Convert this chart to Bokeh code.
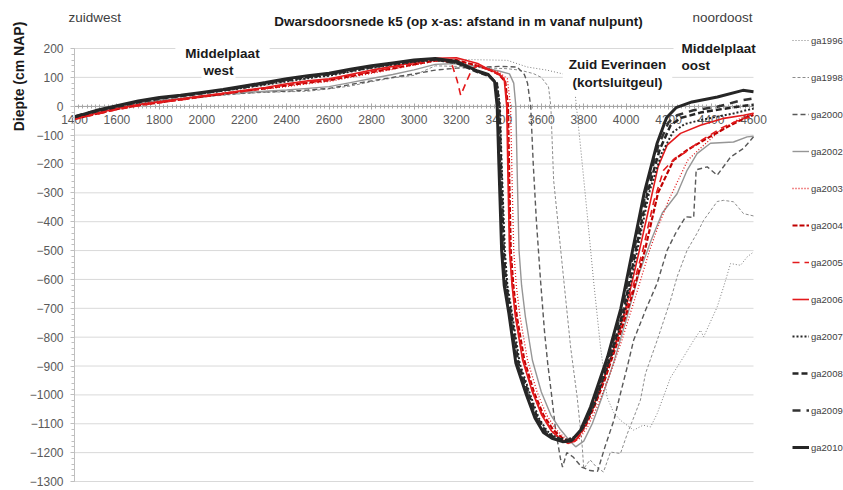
import numpy as np
from math import pi
from bokeh.plotting import figure
from bokeh.models import (Range1d, SingleIntervalTicker, Label, Legend, LegendItem)
from bokeh.embed import file_html
from bokeh.resources import INLINE

# ---------------- data ----------------
west_x = [1400, 1500, 1600, 1700, 1800, 1900, 2000, 2100, 2200, 2300,
          2400, 2500, 2600, 2700, 2800, 2900, 3000, 3100, 3200, 3300]

x_ga2010 = west_x + [3350, 3380, 3392, 3400, 3413, 3425, 3447, 3480, 3530, 3570, 3610, 3650, 3700, 3740,
                     3785, 3832, 3870, 3912, 3975, 4030, 4085, 4145, 4190, 4235, 4310, 4430, 4550, 4600]
y_ga2010 = [-37, -15, 2, 18, 30, 38, 48, 58, 70, 82, 95, 106, 114, 128, 140, 150, 160, 165, 155, 122,
            110, 85, 0, -200, -500, -620, -717, -890, -1000, -1080, -1130, -1150, -1162, -1160,
            -1122, -1042, -960, -869, -700, -500, -300, -130, -40, -5, 15, 32, 55, 50]

x_ga2009 = west_x + [3350, 3385, 3397, 3405, 3418, 3430, 3452, 3486, 3536, 3576, 3616, 3656, 3706, 3748,
                     3792, 3840, 3878, 3920, 3982, 4037, 4092, 4150, 4200, 4240, 4317, 4429, 4540, 4600]
y_ga2009 = [-35, -16, 0, 16, 28, 36, 46, 56, 68, 80, 92, 104, 112, 126, 138, 148, 158, 163, 152, 120,
            108, 82, 0, -200, -500, -620, -717, -890, -1000, -1080, -1130, -1150, -1160, -1155,
            -1118, -1040, -958, -866, -700, -500, -300, -140, -55, -31, -14, -2, 20, 27]

x_ga2008 = west_x + [3350, 3390, 3402, 3410, 3423, 3435, 3457, 3492, 3542, 3582, 3622, 3662, 3712, 3754,
                     3798, 3846, 3884, 3927, 3990, 4045, 4100, 4158, 4210, 4260, 4350, 4450, 4540, 4600]
y_ga2008 = [-38, -18, -2, 14, 26, 35, 45, 55, 66, 78, 90, 101, 110, 123, 135, 146, 156, 162, 150, 118,
            106, 80, 0, -200, -500, -620, -717, -890, -1000, -1080, -1128, -1148, -1158, -1150,
            -1112, -1035, -955, -862, -700, -500, -300, -150, -65, -40, -22, -10, 0, 5]

x_ga2007 = west_x + [3350, 3392, 3405, 3413, 3428, 3440, 3462, 3498, 3548, 3588, 3628, 3668, 3718, 3760,
                     3804, 3852, 3890, 3934, 3997, 4052, 4108, 4166, 4220, 4275, 4350, 4430, 4506, 4600]
y_ga2007 = [-36, -17, 0, 15, 27, 36, 45, 54, 64, 75, 86, 97, 106, 120, 133, 144, 154, 160, 150, 120,
            108, 78, 0, -200, -500, -620, -717, -890, -1000, -1080, -1126, -1146, -1155, -1145,
            -1105, -1030, -950, -858, -700, -500, -300, -165, -90, -62, -48, -36, -25, -8]

x_ga2006 = west_x + [3350, 3400, 3425, 3437, 3443, 3450, 3462, 3478, 3512, 3558, 3602, 3648, 3693, 3725,
                     3760, 3800, 3842, 3892, 3950, 4005, 4062, 4112, 4150, 4193, 4256, 4350, 4460, 4553, 4600]
y_ga2006 = [-42, -25, -8, 5, 15, 25, 35, 45, 55, 65, 78, 88, 95, 110, 125, 138, 152, 166, 168, 148,
            128, 113, 95, 0, -250, -500, -620, -730, -880, -990, -1070, -1125, -1155, -1168,
            -1160, -1115, -1045, -950, -820, -680, -500, -337, -210, -135, -94, -66, -42, -31, -24]

x_ga2005 = [1400, 1500, 1600, 1700, 1800, 1900, 2000, 2100, 2200, 2300, 2400, 2500, 2600, 2700,
            2800, 2900, 3000, 3100, 3150, 3180, 3203, 3220, 3250, 3275, 3300, 3350, 3400, 3428, 3440,
            3446, 3452, 3464, 3480, 3515, 3560, 3605, 3650, 3695, 3728, 3762, 3802, 3845, 3895, 3955,
            4015, 4078, 4130, 4176, 4230, 4270, 4350, 4450, 4540, 4600]
y_ga2005 = [-45, -28, -12, 2, 12, 22, 32, 42, 52, 62, 74, 84, 92, 106,
            120, 133, 147, 160, 156, 142, 90, 38, 90, 131, 140, 126, 110, 88, 0,
            -250, -500, -620, -730, -880, -990, -1070, -1125, -1155, -1166, -1158, -1112, -1042, -945, -815,
            -670, -500, -330, -222, -180, -164, -120, -75, -45, -35]

x_ga2004 = west_x + [3350, 3400, 3430, 3443, 3449, 3456, 3468, 3485, 3520, 3565, 3610, 3655, 3700, 3732,
                     3768, 3808, 3850, 3900, 3960, 4030, 4088, 4150, 4223, 4287, 4365, 4476, 4570, 4600]
y_ga2004 = [-44, -27, -10, 3, 13, 23, 33, 43, 53, 62, 72, 82, 90, 104, 118, 131, 145, 158, 160, 140,
            128, 110, 85, 0, -250, -500, -620, -730, -880, -990, -1070, -1120, -1150, -1162,
            -1152, -1108, -1040, -945, -815, -650, -500, -300, -187, -152, -118, -72, -37, -30]

x_ga2003 = west_x + [3350, 3400, 3440, 3455, 3462, 3470, 3482, 3500, 3535, 3580, 3625, 3670, 3715, 3748,
                     3782, 3820, 3865, 3918, 3980, 4048, 4110, 4150, 4200, 4290, 4340, 4444, 4530, 4600]
y_ga2003 = [-40, -22, -5, 8, 18, 27, 36, 45, 54, 60, 68, 78, 86, 100, 114, 128, 143, 156, 158, 140,
            130, 118, 95, 0, -250, -500, -620, -730, -880, -990, -1070, -1120, -1152, -1165,
            -1150, -1108, -1038, -940, -810, -650, -500, -418, -326, -187, -152, -83, -45, -24]

x_ga2002 = west_x + [3350, 3400, 3450, 3470, 3480, 3487, 3495, 3507, 3525, 3558, 3600, 3645, 3690, 3735,
                     3762, 3800, 3840, 3885, 3940, 4000, 4060, 4120, 4170, 4240, 4287, 4334, 4397, 4506, 4570, 4600]
y_ga2002 = [-38, -20, -4, 10, 20, 28, 36, 42, 48, 52, 56, 62, 68, 82, 96, 110, 126, 145, 148, 138,
            130, 122, 112, 80, 0, -250, -500, -620, -730, -880, -990, -1070, -1120, -1160,
            -1180, -1160, -1100, -1010, -890, -740, -580, -460, -370, -303, -222, -164, -128, -124, -106, -104]

x_ga2000 = west_x + [3344, 3400, 3486, 3520, 3535, 3550, 3562, 3577, 3596, 3615, 3630, 3650, 3667, 3690,
                     3700, 3720, 3750, 3790, 3830, 3865, 3900, 3942, 3973, 4005, 4035, 4091, 4146, 4193,
                     4233, 4280, 4318, 4330, 4382, 4429, 4492, 4553, 4600]
y_ga2000 = [-40, -22, -6, 8, 18, 26, 33, 40, 46, 50, 52, 56, 62, 75, 88, 100, 112, 125, 132, 136,
            136, 138, 136, 110, 80, 0, -200, -400, -600, -780, -890, -1010, -1120, -1220,
            -1250, -1200, -1215, -1250, -1262, -1265, -1180, -1088, -995, -903, -811, -707, -613, -499,
            -440, -383, -385, -220, -210, -239, -176, -146, -106]

x_ga1998 = west_x + [3439, 3500, 3563, 3600, 3634, 3645, 3658, 3690, 3738, 3769, 3793, 3800, 3830, 3860,
                     3893, 3926, 3973, 4005, 4040, 4067, 4091, 4146, 4209, 4240, 4287, 4334, 4365, 4429,
                     4459, 4506, 4553, 4600]
y_ga1998 = [-40, -22, -6, 8, 18, 25, 32, 38, 44, 48, 50, 52, 60, 70, 85, 98, 107, 140, 138, 134,
            130, 125, 113, 100, 67, 0, -256, -488, -834, -1008, -1180, -1255, -1225, -1250,
            -1267, -1198, -1203, -1135, -1070, -1018, -926, -811, -672, -591, -499, -440, -395, -330,
            -326, -331, -372, -380]

x_ga1996 = west_x + [3440, 3533, 3627, 3690, 3740, 3752, 3761, 3785, 3816, 3846, 3879, 3910, 3940, 3973,
                     4035, 4080, 4115, 4146, 4209, 4270, 4318, 4350, 4365, 4429, 4459, 4492, 4539, 4570, 4600]
y_ga1996 = [-40, -20, -3, 12, 24, 33, 42, 52, 62, 72, 84, 95, 106, 120, 133, 145, 155, 163, 162, 161,
            159, 136, 125, 114, 105, 60, 32, -141, -372, -603, -834, -1008, -1060, -1088,
            -1122, -1105, -1111, -1065, -940, -869, -811, -776, -799, -695, -626, -545, -551, -522, -505]

series_names = ["ga1996", "ga1998", "ga2000", "ga2002", "ga2003", "ga2004",
                "ga2005", "ga2006", "ga2007", "ga2008", "ga2009", "ga2010"]
series_x = [x_ga1996, x_ga1998, x_ga2000, x_ga2002, x_ga2003, x_ga2004,
            x_ga2005, x_ga2006, x_ga2007, x_ga2008, x_ga2009, x_ga2010]
series_y = [y_ga1996, y_ga1998, y_ga2000, y_ga2002, y_ga2003, y_ga2004,
            y_ga2005, y_ga2006, y_ga2007, y_ga2008, y_ga2009, y_ga2010]

X_MIN, X_MAX, X_STEP = 1400, 4600, 200
Y_MIN, Y_MAX, Y_STEP = -1300, 200, 100
y_grid_values = list(range(Y_MIN, Y_MAX + 1, Y_STEP))

# ---------------- styles ----------------
styles = {
    "ga1996": dict(line_color="#7f7f7f", line_width=1.0, line_dash="1 2"),
    "ga1998": dict(line_color="#8c8c8c", line_width=1.0, line_dash="3 2"),
    "ga2000": dict(line_color="#595959", line_width=1.4, line_dash="5 3"),
    "ga2002": dict(line_color="#969696", line_width=1.4, line_dash="solid"),
    "ga2003": dict(line_color="#e31a1c", line_width=1.3, line_dash="1 2"),
    "ga2004": dict(line_color="#c00000", line_width=2.2, line_dash="5 2"),
    "ga2005": dict(line_color="#e31a1c", line_width=1.6, line_dash="7 5"),
    "ga2006": dict(line_color="#e31a1c", line_width=1.6, line_dash="solid"),
    "ga2007": dict(line_color="#262626", line_width=2.0, line_dash="2 2"),
    "ga2008": dict(line_color="#262626", line_width=2.5, line_dash="6 3"),
    "ga2009": dict(line_color="#333333", line_width=2.5, line_dash="8 6"),
    "ga2010": dict(line_color="#262626", line_width=3.0, line_dash="solid"),
}

FONT = "Liberation Sans"

# ---------------- layout: frame = whole canvas, axes fixed inside ----------------
W, H = 843, 490
PX_LEFT, PX_RIGHT, PX_TOP, PX_BOTTOM = 74, 753, 48, 481   # where the data box sits
sx = (PX_RIGHT - PX_LEFT) / (X_MAX - X_MIN)
sy = (PX_BOTTOM - PX_TOP) / (Y_MAX - Y_MIN)
x_range = Range1d(X_MIN - PX_LEFT / sx, X_MIN + (W - PX_LEFT) / sx)
y_range = Range1d(Y_MAX - (H - PX_TOP) / sy, Y_MAX + PX_TOP / sy)

p = figure(width=W, height=H, x_range=x_range, y_range=y_range,
           output_backend="svg", toolbar_location=None,
           min_border_left=0, min_border_right=0, min_border_top=0, min_border_bottom=0)
p.outline_line_color = None
p.background_fill_color = "white"
p.border_fill_color = "white"
p.xgrid.visible = False
p.ygrid.visible = False

# horizontal grid lines only over the data box
p.segment(x0=[X_MIN] * len(y_grid_values), y0=y_grid_values,
          x1=[X_MAX] * len(y_grid_values), y1=y_grid_values,
          line_color="#d9d9d9", line_width=1, level="underlay")

# y axis at x = 1400
yt = SingleIntervalTicker(interval=Y_STEP, num_minor_ticks=5)
p.yaxis.ticker = yt
p.yaxis.fixed_location = X_MIN
p.yaxis.bounds = (Y_MIN, Y_MAX)
p.yaxis.axis_line_color = "#bfbfbf"
p.yaxis.major_tick_line_color = "#bfbfbf"
p.yaxis.minor_tick_line_color = "#bfbfbf"
p.yaxis.major_tick_out = 4
p.yaxis.major_tick_in = 0
p.yaxis.minor_tick_out = 3
p.yaxis.minor_tick_in = 0
p.yaxis.major_label_standoff = 7
p.yaxis.major_label_text_font = FONT
p.yaxis.major_label_text_font_size = "12px"
p.yaxis.major_label_text_color = "#595959"

# x axis at y = 0
xt = SingleIntervalTicker(interval=X_STEP, num_minor_ticks=10)
p.xaxis.ticker = xt
p.xaxis.fixed_location = 0
p.xaxis.bounds = (X_MIN, X_MAX)
p.xaxis.axis_line_color = "#a6a6a6"
p.xaxis.major_tick_line_color = "#a6a6a6"
p.xaxis.minor_tick_line_color = "#a6a6a6"
p.xaxis.major_tick_out = 3
p.xaxis.major_tick_in = 3
p.xaxis.minor_tick_out = 2
p.xaxis.minor_tick_in = 2
p.xaxis.major_label_standoff = 6
p.xaxis.major_label_text_font = FONT
p.xaxis.major_label_text_font_size = "12px"
p.xaxis.major_label_text_color = "#595959"
p.xaxis.level = "underlay"

items = []
for name, xs, ys in zip(series_names, series_x, series_y):
    r = p.line(xs, ys, **styles[name])
    items.append(LegendItem(label=name, renderers=[r]))

legend = Legend(items=items, location=(792, 33), orientation="vertical",
                glyph_width=17, glyph_height=20, label_height=20, label_standoff=2, spacing=17,
                padding=0, margin=0, border_line_color=None, background_fill_alpha=0,
                label_text_font=FONT, label_text_font_size="9.5px", label_text_color="#404040")
p.add_layout(legend)

def lab(text, x, y, align="center", size="13.5px", style="bold", color="#1a1a1a", bg=None, pad=0, angle=0):
    kw = dict(x=x, y=H - y, x_units="screen", y_units="screen", text=text, text_align=align,
              text_baseline="middle", text_font=FONT, text_font_size=size, text_font_style=style,
              text_color=color, angle=angle)
    if bg is not None:
        kw.update(background_fill_color=bg, padding=pad)
    p.add_layout(Label(**kw))

# positions given as pixels from the top-left corner of the picture
lab("Dwarsdoorsnede k5 (op x-as: afstand in m vanaf nulpunt)", 458, 21)
lab("zuidwest", 68, 17, align="left", style="normal", color="#404040")
lab("noordoost", 752, 17, align="right", style="normal", color="#404040")
lab("Diepte (cm NAP)", 18, 76, size="14px", angle=pi / 2)
lab("Middelplaat", 222, 53, bg="white", pad=10)
lab("west", 218, 70, bg="white", pad=2)
lab("Zuid Everingen", 617, 64, bg="white", pad=6)
lab("(kortsluitgeul)", 617, 82, bg="white", pad=6)
lab("Middelplaat", 673, 48, align="left", bg="white", pad=8)
lab("oost", 679, 65, align="left", bg="white", pad=2)

open("out.html", "w").write(file_html(p, INLINE))
